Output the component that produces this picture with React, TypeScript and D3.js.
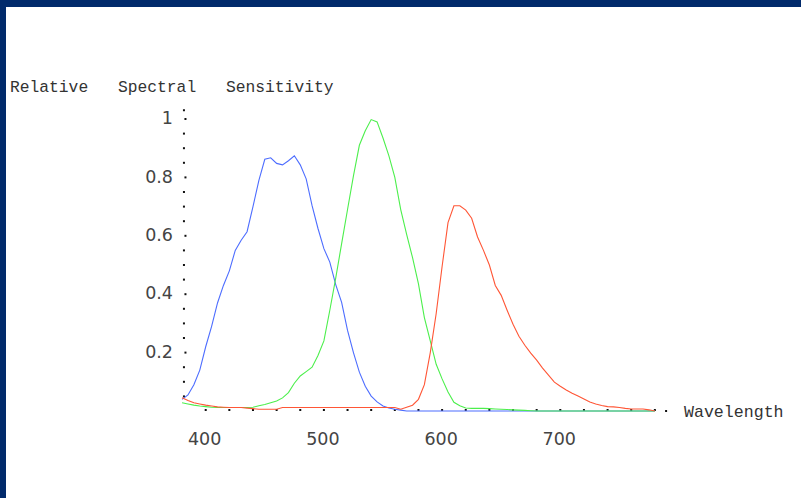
import React from "react";
import * as d3 from "d3";

// wavelength grid (nm)
const wavelengths = [
  380, 385, 390, 395, 400, 405, 410, 415, 420, 425,
  430, 435, 440, 445, 450, 455, 460, 465, 470, 475,
  480, 485, 490, 495, 500, 505, 510, 515, 520, 525,
  530, 535, 540, 545, 550, 555, 560, 565, 570, 575,
  580, 585, 590, 595, 600, 605, 610, 615, 620, 625,
  630, 635, 640, 645, 650, 655, 660, 665, 670, 675,
  680, 685, 690, 695, 700, 705, 710, 715, 720, 725,
  730, 735, 740, 745, 750, 755, 760, 765, 770, 775,
  780,
];

const blueCone = [
  0.04, 0.055, 0.09, 0.14, 0.22, 0.29, 0.37, 0.43, 0.48, 0.55,
  0.585, 0.614, 0.7, 0.79, 0.862, 0.867, 0.848, 0.843, 0.857, 0.874,
  0.843, 0.795, 0.703, 0.625, 0.556, 0.51, 0.433, 0.372, 0.276, 0.2,
  0.133, 0.085, 0.051, 0.031, 0.017, 0.01, 0.006, 0.003, 0, 0,
  0, 0, 0, 0, 0, 0, 0, 0, 0, 0,
  0, 0, 0, 0, 0, 0, 0, 0, 0, 0,
  0, 0, 0, 0, 0, 0, 0, 0, 0, 0,
  0, 0, 0, 0, 0, 0, 0, 0, 0, 0,
  0,
];

const greenCone = [
  0.028, 0.024, 0.02, 0.017, 0.015, 0.013, 0.012, 0.012, 0.012, 0.012,
  0.012, 0.012, 0.013, 0.018, 0.022, 0.028, 0.034, 0.045, 0.063, 0.095,
  0.12, 0.135, 0.15, 0.19, 0.24, 0.345, 0.455, 0.573, 0.69, 0.805,
  0.91, 0.96, 0.998, 0.99, 0.935, 0.874, 0.8, 0.69, 0.605, 0.525,
  0.435, 0.32, 0.24, 0.16, 0.11, 0.065, 0.03, 0.018, 0.01, 0.009,
  0.009, 0.009, 0.008, 0.007, 0.006, 0.005, 0.004, 0.003, 0.002, 0.001,
  0, 0, 0, 0, 0, 0, 0, 0, 0, 0,
  0, 0, 0, 0, 0, 0, 0, 0, 0, 0,
  0,
];

const redCone = [
  0.045, 0.036, 0.028, 0.024, 0.02, 0.017, 0.014, 0.013, 0.012, 0.012,
  0.012, 0.01, 0.008, 0.006, 0.006, 0.006, 0.006, 0.012, 0.012, 0.012,
  0.012, 0.012, 0.012, 0.012, 0.012, 0.012, 0.012, 0.012, 0.012, 0.012,
  0.012, 0.012, 0.012, 0.012, 0.012, 0.012, 0.012, 0.006, 0.013, 0.02,
  0.04, 0.09, 0.2, 0.334, 0.495, 0.645, 0.703, 0.703, 0.688, 0.66,
  0.596, 0.55, 0.5, 0.43, 0.396, 0.345, 0.297, 0.256, 0.225, 0.198,
  0.174, 0.147, 0.123, 0.099, 0.085, 0.072, 0.061, 0.051, 0.041, 0.031,
  0.024, 0.019, 0.015, 0.014, 0.012, 0.009, 0.007, 0.007, 0.007, 0.004,
  0,
];

const xTickValues = [400, 420, 440, 460, 480, 500, 520, 540, 560, 580, 600, 620, 640, 660, 680, 700, 720, 740, 760, 780];
const xLabels = [400, 500, 600, 700];
const yTickValues = [0.05, 0.1, 0.15, 0.2, 0.25, 0.3, 0.35, 0.4, 0.45, 0.5, 0.55, 0.6, 0.65, 0.7, 0.75, 0.8, 0.85, 0.9, 0.95, 1];
const yLabels = [0.2, 0.4, 0.6, 0.8, 1];

const W = 801;
const H = 498;

export default function App() {
  const x = d3.scaleLinear().domain([400, 700]).range([205.7, 560.3]);
  const y = d3.scaleLinear().domain([0, 1]).range([411, 119]);
  const axisX = x(381.6);

  const line = (vals: number[]) =>
    d3.line<number>()
      .x((d, i) => x(wavelengths[i]))
      .y((d) => y(d))(vals) as string;

  const series = [
    { vals: blueCone, color: "#4d6dff" },
    { vals: greenCone, color: "#4cef4c" },
    { vals: redCone, color: "#ff5636" },
  ];

  const mono = "'Courier New', 'Liberation Mono', monospace";
  const sans = "'DejaVu Sans', sans-serif";

  return (
    <svg width={W} height={H} style={{ position: "absolute", left: 0, top: 0, background: "#fff" }}>
      <rect x={0} y={0} width={W} height={7} fill="#012a6b" />
      <rect x={0} y={0} width={6} height={H} fill="#012a6b" />

      <text y={92} fontFamily={mono} fontSize={16.3} fill="#333">
        <tspan x={10}>Relative</tspan>
        <tspan x={118}>Spectral</tspan>
        <tspan x={226}>Sensitivity</tspan>
      </text>

      {/* y axis: dotted ticks */}
      {yTickValues.map((v) => {
        const major = yLabels.some((l) => Math.abs(l - v) < 1e-6);
        return (
          <rect key={"yt" + v} x={axisX + (major ? 1.5 : 0) - 1} y={y(v) - 1} width={2} height={2} fill="#111" />
        );
      })}
      <rect x={axisX - 1} y={y(1.03) - 1} width={2} height={2} fill="#111" />
      {yLabels.map((v) => (
        <text key={"yl" + v} x={173} y={y(v) - 1} dy="0.35em" textAnchor="end"
          fontFamily={sans} fontSize={17.5} fill="#444">
          {String(v)}
        </text>
      ))}

      {/* x axis: dotted ticks */}
      {xTickValues.map((v) => (
        <rect key={"xt" + v} x={x(v) - 1} y={y(0) - 2} width={2} height={2} fill="#111" />
      ))}
      <rect x={x(789.5) - 1} y={y(0) - 1} width={2} height={2} fill="#111" />
      {xLabels.map((v) => (
        <text key={"xl" + v} x={x(v) - 1} y={439} dy="0.35em" textAnchor="middle"
          fontFamily={sans} fontSize={17.5} fill="#444">
          {v}
        </text>
      ))}
      <text x={684} y={417} fontFamily={mono} fontSize={16.6} fill="#333">Wavelength</text>

      {series.map((s, i) => (
        <path key={i} d={line(s.vals)} fill="none" stroke={s.color} strokeWidth={1.1} />
      ))}
    </svg>
  );
}
